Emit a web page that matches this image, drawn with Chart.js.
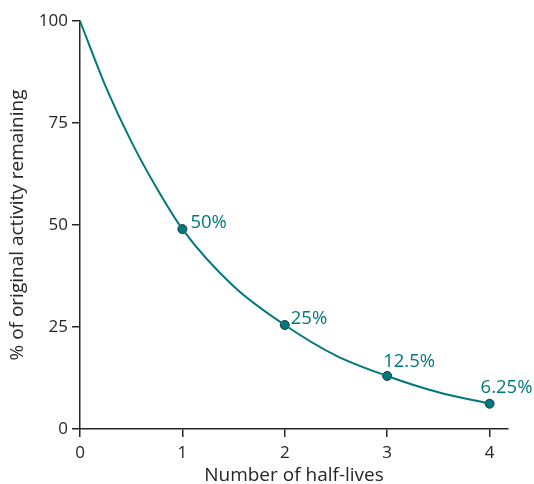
<!DOCTYPE html>
<html>
<head>
<meta charset="utf-8">
<script src="https://cdn.jsdelivr.net/npm/chart.js@4"></script>
<style>
  body { margin: 0; background: #fff; }
  canvas { display: block; }
</style>
</head>
<body>
<canvas id="decay" width="534" height="484"></canvas>
<script>
// decay curve
const curveX = [0, 0.25, 0.5, 0.75, 1, 1.5, 2, 2.5, 3, 3.5, 4];
const curveY = [100, 84, 70.5, 59, 49, 35, 25.5, 18, 13, 9, 6.2];
// marked points and their labels
const markX = [1, 2, 3, 4];
const markY = [49, 25.5, 13, 6.2];
const markLabels = ['50%', '25%', '12.5%', '6.25%'];
const xTicks = [0, 1, 2, 3, 4];
const yTicks = [0, 25, 50, 75, 100];

const teal = '#00797e';
const ink = '#262626';
const font = "'Open Sans', 'Liberation Sans', sans-serif";

// label placement relative to each point: [dx, dy]
const labelOffsets = [[8, -6], [6, -6], [-4, -14], [-9, -16]];

const pointLabels = {
  id: 'pointLabels',
  afterDatasetsDraw(chart) {
    const { ctx } = chart;
    const meta = chart.getDatasetMeta(1);
    ctx.save();
    ctx.font = '18.5px ' + font;
    ctx.fillStyle = teal;
    ctx.textBaseline = 'middle';
    ctx.textAlign = 'left';
    meta.data.forEach((pt, i) => {
      const [dx, dy] = labelOffsets[i];
      ctx.fillText(markLabels[i], pt.x + dx, pt.y + dy);
    });
    ctx.restore();
  }
};

new Chart(document.getElementById('decay').getContext('2d'), {
  type: 'line',
  data: {
    datasets: [
      {
        data: curveX.map((x, i) => ({ x, y: curveY[i] })),
        borderColor: teal, borderWidth: 2, pointRadius: 0,
        cubicInterpolationMode: 'monotone', fill: false
      },
      {
        data: markX.map((x, i) => ({ x, y: markY[i] })),
        showLine: false, pointRadius: 4.5, pointBackgroundColor: teal,
        pointBorderColor: '#1d3b3d', pointBorderWidth: 1
      }
    ]
  },
  options: {
    responsive: false,
    animation: false,
    clip: false,
    layout: { padding: { top: 21, right: 26, left: 4, bottom: 0 } },
    plugins: { legend: { display: false }, tooltip: { enabled: false } },
    scales: {
      x: {
        type: 'linear', min: 0, max: 4.18,
        afterBuildTicks: s => { s.ticks = xTicks.map(v => ({ value: v })); },
        afterFit: s => { s.height = 55; },
        border: { display: true, color: ink, width: 1.5 },
        grid: { drawOnChartArea: false, drawTicks: true, tickLength: 8, color: ink, lineWidth: 1.5 },
        ticks: { color: ink, font: { family: font, size: 17 }, padding: 6 },
        title: { display: true, text: 'Number of half-lives', color: ink, font: { family: font, size: 19, lineHeight: 1 }, padding: { top: 5, bottom: -1 } }
      },
      y: {
        min: 0, max: 100,
        afterBuildTicks: s => { s.ticks = yTicks.map(v => ({ value: v })); },
        afterFit: s => { s.width = 76; },
        border: { display: true, color: ink, width: 1.5 },
        grid: { drawOnChartArea: false, drawTicks: true, tickLength: 8, color: ink, lineWidth: 1.5 },
        ticks: { color: ink, font: { family: font, size: 17 }, padding: 4 },
        title: { display: true, text: '% of original activity remaining', color: ink, font: { family: font, size: 19, lineHeight: 1 }, padding: { bottom: 4 } }
      }
    }
  },
  plugins: [pointLabels]
});
</script>
</body>
</html>
